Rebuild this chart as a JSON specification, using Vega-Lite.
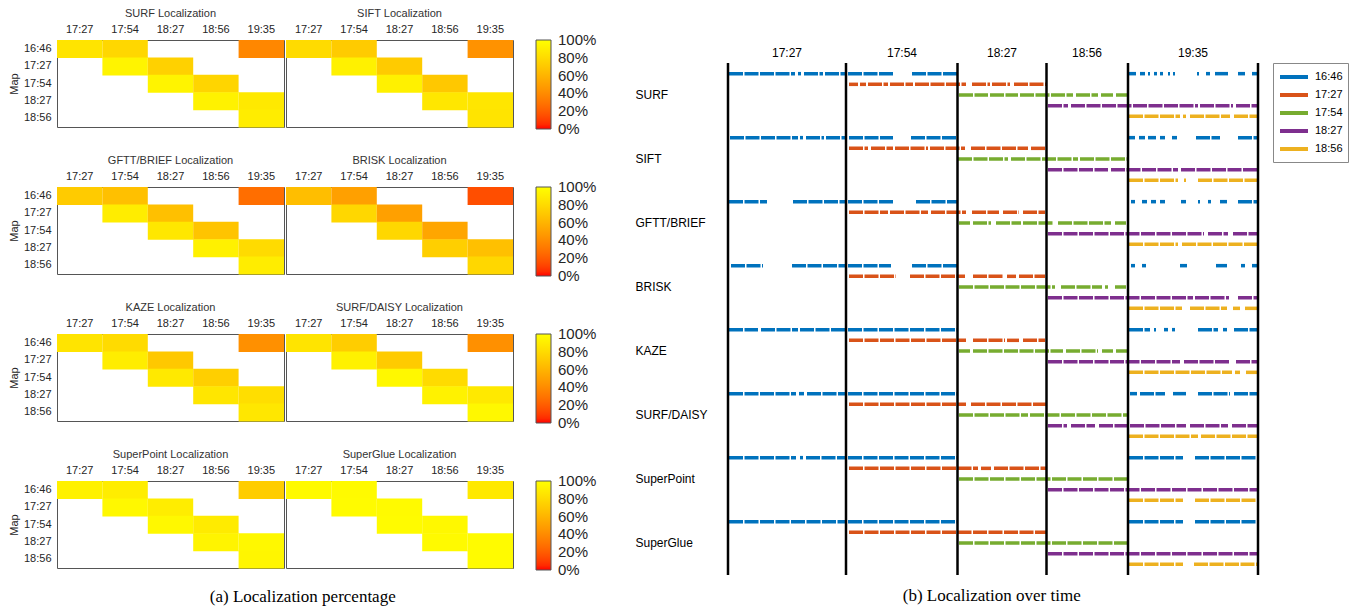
{
  "$schema": "https://vega.github.io/schema/vega-lite/v6.json",
  "background": "white",
  "padding": {"left": 8, "top": 8, "right": 4, "bottom": 4},
  "config": {
    "font": "Liberation Sans",
    "view": {"stroke": "#555555"},
    "axis": {"labelColor": "#262626", "titleColor": "#262626", "labelFontSize": 11, "titleFontSize": 11, "titleFontWeight": "normal"},
    "header": {"labelFontSize": 11, "labelColor": "#333333", "labelPadding": 4},
    "legend": {"labelColor": "#262626"}
  },
  "datasets": {
    "heat": [
      {"method": "SURF", "map": "16:46", "query": "17:27", "value": 0.85},
      {"method": "SURF", "map": "16:46", "query": "17:54", "value": 0.78},
      {"method": "SURF", "map": "16:46", "query": "19:35", "value": 0.38},
      {"method": "SURF", "map": "17:27", "query": "17:54", "value": 0.94},
      {"method": "SURF", "map": "17:27", "query": "18:27", "value": 0.75},
      {"method": "SURF", "map": "17:54", "query": "18:27", "value": 0.94},
      {"method": "SURF", "map": "17:54", "query": "18:56", "value": 0.77},
      {"method": "SURF", "map": "18:27", "query": "18:56", "value": 0.93},
      {"method": "SURF", "map": "18:27", "query": "19:35", "value": 0.88},
      {"method": "SURF", "map": "18:56", "query": "19:35", "value": 0.9},
      {"method": "SIFT", "map": "16:46", "query": "17:27", "value": 0.8},
      {"method": "SIFT", "map": "16:46", "query": "17:54", "value": 0.72},
      {"method": "SIFT", "map": "16:46", "query": "19:35", "value": 0.43},
      {"method": "SIFT", "map": "17:27", "query": "17:54", "value": 0.92},
      {"method": "SIFT", "map": "17:27", "query": "18:27", "value": 0.72},
      {"method": "SIFT", "map": "17:54", "query": "18:27", "value": 0.92},
      {"method": "SIFT", "map": "17:54", "query": "18:56", "value": 0.7},
      {"method": "SIFT", "map": "18:27", "query": "18:56", "value": 0.87},
      {"method": "SIFT", "map": "18:27", "query": "19:35", "value": 0.86},
      {"method": "SIFT", "map": "18:56", "query": "19:35", "value": 0.85},
      {"method": "GFTT/BRIEF", "map": "16:46", "query": "17:27", "value": 0.72},
      {"method": "GFTT/BRIEF", "map": "16:46", "query": "17:54", "value": 0.66},
      {"method": "GFTT/BRIEF", "map": "16:46", "query": "19:35", "value": 0.27},
      {"method": "GFTT/BRIEF", "map": "17:27", "query": "17:54", "value": 0.9},
      {"method": "GFTT/BRIEF", "map": "17:27", "query": "18:27", "value": 0.66},
      {"method": "GFTT/BRIEF", "map": "17:54", "query": "18:27", "value": 0.87},
      {"method": "GFTT/BRIEF", "map": "17:54", "query": "18:56", "value": 0.68},
      {"method": "GFTT/BRIEF", "map": "18:27", "query": "18:56", "value": 0.92},
      {"method": "GFTT/BRIEF", "map": "18:27", "query": "19:35", "value": 0.8},
      {"method": "GFTT/BRIEF", "map": "18:56", "query": "19:35", "value": 0.9},
      {"method": "BRISK", "map": "16:46", "query": "17:27", "value": 0.65},
      {"method": "BRISK", "map": "16:46", "query": "17:54", "value": 0.5},
      {"method": "BRISK", "map": "16:46", "query": "19:35", "value": 0.15},
      {"method": "BRISK", "map": "17:27", "query": "17:54", "value": 0.78},
      {"method": "BRISK", "map": "17:27", "query": "18:27", "value": 0.5},
      {"method": "BRISK", "map": "17:54", "query": "18:27", "value": 0.78},
      {"method": "BRISK", "map": "17:54", "query": "18:56", "value": 0.53},
      {"method": "BRISK", "map": "18:27", "query": "18:56", "value": 0.74},
      {"method": "BRISK", "map": "18:27", "query": "19:35", "value": 0.66},
      {"method": "BRISK", "map": "18:56", "query": "19:35", "value": 0.78},
      {"method": "KAZE", "map": "16:46", "query": "17:27", "value": 0.85},
      {"method": "KAZE", "map": "16:46", "query": "17:54", "value": 0.8},
      {"method": "KAZE", "map": "16:46", "query": "19:35", "value": 0.42},
      {"method": "KAZE", "map": "17:27", "query": "17:54", "value": 0.9},
      {"method": "KAZE", "map": "17:27", "query": "18:27", "value": 0.7},
      {"method": "KAZE", "map": "17:54", "query": "18:27", "value": 0.88},
      {"method": "KAZE", "map": "17:54", "query": "18:56", "value": 0.74},
      {"method": "KAZE", "map": "18:27", "query": "18:56", "value": 0.86},
      {"method": "KAZE", "map": "18:27", "query": "19:35", "value": 0.82},
      {"method": "KAZE", "map": "18:56", "query": "19:35", "value": 0.87},
      {"method": "SURF/DAISY", "map": "16:46", "query": "17:27", "value": 0.85},
      {"method": "SURF/DAISY", "map": "16:46", "query": "17:54", "value": 0.73},
      {"method": "SURF/DAISY", "map": "16:46", "query": "19:35", "value": 0.42},
      {"method": "SURF/DAISY", "map": "17:27", "query": "17:54", "value": 0.92},
      {"method": "SURF/DAISY", "map": "17:27", "query": "18:27", "value": 0.72},
      {"method": "SURF/DAISY", "map": "17:54", "query": "18:27", "value": 0.96},
      {"method": "SURF/DAISY", "map": "17:54", "query": "18:56", "value": 0.8},
      {"method": "SURF/DAISY", "map": "18:27", "query": "18:56", "value": 0.93},
      {"method": "SURF/DAISY", "map": "18:27", "query": "19:35", "value": 0.88},
      {"method": "SURF/DAISY", "map": "18:56", "query": "19:35", "value": 0.96},
      {"method": "SuperPoint", "map": "16:46", "query": "17:27", "value": 0.92},
      {"method": "SuperPoint", "map": "16:46", "query": "17:54", "value": 0.9},
      {"method": "SuperPoint", "map": "16:46", "query": "19:35", "value": 0.73},
      {"method": "SuperPoint", "map": "17:27", "query": "17:54", "value": 0.96},
      {"method": "SuperPoint", "map": "17:27", "query": "18:27", "value": 0.9},
      {"method": "SuperPoint", "map": "17:54", "query": "18:27", "value": 0.96},
      {"method": "SuperPoint", "map": "17:54", "query": "18:56", "value": 0.89},
      {"method": "SuperPoint", "map": "18:27", "query": "18:56", "value": 0.94},
      {"method": "SuperPoint", "map": "18:27", "query": "19:35", "value": 0.96},
      {"method": "SuperPoint", "map": "18:56", "query": "19:35", "value": 0.95},
      {"method": "SuperGlue", "map": "16:46", "query": "17:27", "value": 0.97},
      {"method": "SuperGlue", "map": "16:46", "query": "17:54", "value": 0.97},
      {"method": "SuperGlue", "map": "16:46", "query": "19:35", "value": 0.88},
      {"method": "SuperGlue", "map": "17:27", "query": "17:54", "value": 0.98},
      {"method": "SuperGlue", "map": "17:27", "query": "18:27", "value": 0.97},
      {"method": "SuperGlue", "map": "17:54", "query": "18:27", "value": 0.98},
      {"method": "SuperGlue", "map": "17:54", "query": "18:56", "value": 0.96},
      {"method": "SuperGlue", "map": "18:27", "query": "18:56", "value": 0.97},
      {"method": "SuperGlue", "map": "18:27", "query": "19:35", "value": 0.98},
      {"method": "SuperGlue", "map": "18:56", "query": "19:35", "value": 0.98}
    ],
    "sessions": [
      {"boundary": 0}, {"boundary": 118}, {"boundary": 229.5}, {"boundary": 318.5}, {"boundary": 400}, {"boundary": 530}
    ],
    "sessionLabels": [
      {"session": "17:27", "center": 59}, {"session": "17:54", "center": 174}, {"session": "18:27", "center": 274},
      {"session": "18:56", "center": 359}, {"session": "19:35", "center": 465}
    ],
    "segments": [
      {"method": "SURF", "map": "16:46", "start": 1, "end": 67}, {"method": "SURF", "map": "16:46", "start": 70, "end": 73},
      {"method": "SURF", "map": "16:46", "start": 76, "end": 95}, {"method": "SURF", "map": "16:46", "start": 97, "end": 118},
      {"method": "SURF", "map": "16:46", "start": 120, "end": 165}, {"method": "SURF", "map": "16:46", "start": 184, "end": 229},
      {"method": "SURF", "map": "16:46", "start": 401, "end": 408}, {"method": "SURF", "map": "16:46", "start": 412, "end": 417},
      {"method": "SURF", "map": "16:46", "start": 420, "end": 422}, {"method": "SURF", "map": "16:46", "start": 426, "end": 429},
      {"method": "SURF", "map": "16:46", "start": 432, "end": 435}, {"method": "SURF", "map": "16:46", "start": 440, "end": 442},
      {"method": "SURF", "map": "16:46", "start": 445, "end": 447}, {"method": "SURF", "map": "16:46", "start": 469, "end": 471},
      {"method": "SURF", "map": "16:46", "start": 478, "end": 482}, {"method": "SURF", "map": "16:46", "start": 487, "end": 500},
      {"method": "SURF", "map": "16:46", "start": 510, "end": 517}, {"method": "SURF", "map": "16:46", "start": 524, "end": 529},
      {"method": "SURF", "map": "17:27", "start": 121, "end": 130}, {"method": "SURF", "map": "17:27", "start": 132, "end": 138},
      {"method": "SURF", "map": "17:27", "start": 140, "end": 160}, {"method": "SURF", "map": "17:27", "start": 162, "end": 185},
      {"method": "SURF", "map": "17:27", "start": 187, "end": 238}, {"method": "SURF", "map": "17:27", "start": 244, "end": 262},
      {"method": "SURF", "map": "17:27", "start": 264, "end": 282}, {"method": "SURF", "map": "17:27", "start": 286, "end": 318},
      {"method": "SURF", "map": "17:54", "start": 231, "end": 260}, {"method": "SURF", "map": "17:54", "start": 262, "end": 290},
      {"method": "SURF", "map": "17:54", "start": 292, "end": 345}, {"method": "SURF", "map": "17:54", "start": 348, "end": 370},
      {"method": "SURF", "map": "17:54", "start": 373, "end": 385}, {"method": "SURF", "map": "17:54", "start": 388, "end": 399},
      {"method": "SURF", "map": "18:27", "start": 320, "end": 340}, {"method": "SURF", "map": "18:27", "start": 343, "end": 470},
      {"method": "SURF", "map": "18:27", "start": 472, "end": 505}, {"method": "SURF", "map": "18:27", "start": 508, "end": 530},
      {"method": "SURF", "map": "18:56", "start": 401, "end": 452}, {"method": "SURF", "map": "18:56", "start": 455, "end": 458},
      {"method": "SURF", "map": "18:56", "start": 462, "end": 502}, {"method": "SURF", "map": "18:56", "start": 506, "end": 530},

      {"method": "SIFT", "map": "16:46", "start": 2, "end": 70}, {"method": "SIFT", "map": "16:46", "start": 72, "end": 75},
      {"method": "SIFT", "map": "16:46", "start": 78, "end": 96}, {"method": "SIFT", "map": "16:46", "start": 98, "end": 118},
      {"method": "SIFT", "map": "16:46", "start": 121, "end": 165}, {"method": "SIFT", "map": "16:46", "start": 183, "end": 229},
      {"method": "SIFT", "map": "16:46", "start": 401, "end": 407}, {"method": "SIFT", "map": "16:46", "start": 411, "end": 417},
      {"method": "SIFT", "map": "16:46", "start": 420, "end": 428}, {"method": "SIFT", "map": "16:46", "start": 432, "end": 437},
      {"method": "SIFT", "map": "16:46", "start": 444, "end": 449}, {"method": "SIFT", "map": "16:46", "start": 468, "end": 492},
      {"method": "SIFT", "map": "16:46", "start": 510, "end": 530},
      {"method": "SIFT", "map": "17:27", "start": 121, "end": 140}, {"method": "SIFT", "map": "17:27", "start": 143, "end": 165},
      {"method": "SIFT", "map": "17:27", "start": 167, "end": 200}, {"method": "SIFT", "map": "17:27", "start": 202, "end": 237},
      {"method": "SIFT", "map": "17:27", "start": 243, "end": 300}, {"method": "SIFT", "map": "17:27", "start": 303, "end": 318},
      {"method": "SIFT", "map": "17:54", "start": 230, "end": 280}, {"method": "SIFT", "map": "17:54", "start": 283, "end": 350},
      {"method": "SIFT", "map": "17:54", "start": 352, "end": 399},
      {"method": "SIFT", "map": "18:27", "start": 320, "end": 380}, {"method": "SIFT", "map": "18:27", "start": 383, "end": 450},
      {"method": "SIFT", "map": "18:27", "start": 453, "end": 530},
      {"method": "SIFT", "map": "18:56", "start": 401, "end": 450}, {"method": "SIFT", "map": "18:56", "start": 456, "end": 458},
      {"method": "SIFT", "map": "18:56", "start": 470, "end": 530},

      {"method": "GFTT/BRIEF", "map": "16:46", "start": 1, "end": 39}, {"method": "GFTT/BRIEF", "map": "16:46", "start": 65, "end": 117},
      {"method": "GFTT/BRIEF", "map": "16:46", "start": 120, "end": 165}, {"method": "GFTT/BRIEF", "map": "16:46", "start": 188, "end": 229},
      {"method": "GFTT/BRIEF", "map": "16:46", "start": 403, "end": 407}, {"method": "GFTT/BRIEF", "map": "16:46", "start": 414, "end": 419},
      {"method": "GFTT/BRIEF", "map": "16:46", "start": 423, "end": 428}, {"method": "GFTT/BRIEF", "map": "16:46", "start": 432, "end": 437},
      {"method": "GFTT/BRIEF", "map": "16:46", "start": 453, "end": 458}, {"method": "GFTT/BRIEF", "map": "16:46", "start": 470, "end": 472},
      {"method": "GFTT/BRIEF", "map": "16:46", "start": 480, "end": 483}, {"method": "GFTT/BRIEF", "map": "16:46", "start": 492, "end": 499},
      {"method": "GFTT/BRIEF", "map": "16:46", "start": 510, "end": 530},
      {"method": "GFTT/BRIEF", "map": "17:27", "start": 121, "end": 160}, {"method": "GFTT/BRIEF", "map": "17:27", "start": 162, "end": 200},
      {"method": "GFTT/BRIEF", "map": "17:27", "start": 203, "end": 238}, {"method": "GFTT/BRIEF", "map": "17:27", "start": 244, "end": 271},
      {"method": "GFTT/BRIEF", "map": "17:27", "start": 275, "end": 291}, {"method": "GFTT/BRIEF", "map": "17:27", "start": 295, "end": 317},
      {"method": "GFTT/BRIEF", "map": "17:54", "start": 231, "end": 242}, {"method": "GFTT/BRIEF", "map": "17:54", "start": 245, "end": 263},
      {"method": "GFTT/BRIEF", "map": "17:54", "start": 268, "end": 293}, {"method": "GFTT/BRIEF", "map": "17:54", "start": 295, "end": 326},
      {"method": "GFTT/BRIEF", "map": "17:54", "start": 330, "end": 383}, {"method": "GFTT/BRIEF", "map": "17:54", "start": 387, "end": 398},
      {"method": "GFTT/BRIEF", "map": "18:27", "start": 320, "end": 476}, {"method": "GFTT/BRIEF", "map": "18:27", "start": 480, "end": 500},
      {"method": "GFTT/BRIEF", "map": "18:27", "start": 505, "end": 530},
      {"method": "GFTT/BRIEF", "map": "18:56", "start": 401, "end": 450}, {"method": "GFTT/BRIEF", "map": "18:56", "start": 454, "end": 530},

      {"method": "BRISK", "map": "16:46", "start": 3, "end": 35}, {"method": "BRISK", "map": "16:46", "start": 64, "end": 117},
      {"method": "BRISK", "map": "16:46", "start": 120, "end": 163}, {"method": "BRISK", "map": "16:46", "start": 184, "end": 229},
      {"method": "BRISK", "map": "16:46", "start": 403, "end": 407}, {"method": "BRISK", "map": "16:46", "start": 414, "end": 418},
      {"method": "BRISK", "map": "16:46", "start": 452, "end": 459}, {"method": "BRISK", "map": "16:46", "start": 488, "end": 499},
      {"method": "BRISK", "map": "16:46", "start": 513, "end": 517}, {"method": "BRISK", "map": "16:46", "start": 524, "end": 529},
      {"method": "BRISK", "map": "17:27", "start": 121, "end": 168}, {"method": "BRISK", "map": "17:27", "start": 182, "end": 237},
      {"method": "BRISK", "map": "17:27", "start": 245, "end": 276}, {"method": "BRISK", "map": "17:27", "start": 279, "end": 288},
      {"method": "BRISK", "map": "17:27", "start": 291, "end": 317},
      {"method": "BRISK", "map": "17:54", "start": 231, "end": 327}, {"method": "BRISK", "map": "17:54", "start": 333, "end": 374},
      {"method": "BRISK", "map": "17:54", "start": 377, "end": 380}, {"method": "BRISK", "map": "17:54", "start": 387, "end": 398},
      {"method": "BRISK", "map": "18:27", "start": 320, "end": 465}, {"method": "BRISK", "map": "18:27", "start": 467, "end": 501},
      {"method": "BRISK", "map": "18:27", "start": 510, "end": 530},
      {"method": "BRISK", "map": "18:56", "start": 401, "end": 454}, {"method": "BRISK", "map": "18:56", "start": 462, "end": 499},
      {"method": "BRISK", "map": "18:56", "start": 505, "end": 512}, {"method": "BRISK", "map": "18:56", "start": 517, "end": 530},

      {"method": "KAZE", "map": "16:46", "start": 1, "end": 30}, {"method": "KAZE", "map": "16:46", "start": 33, "end": 70},
      {"method": "KAZE", "map": "16:46", "start": 72, "end": 118}, {"method": "KAZE", "map": "16:46", "start": 120, "end": 229},
      {"method": "KAZE", "map": "16:46", "start": 401, "end": 422}, {"method": "KAZE", "map": "16:46", "start": 426, "end": 428},
      {"method": "KAZE", "map": "16:46", "start": 436, "end": 440}, {"method": "KAZE", "map": "16:46", "start": 444, "end": 447},
      {"method": "KAZE", "map": "16:46", "start": 470, "end": 490}, {"method": "KAZE", "map": "16:46", "start": 495, "end": 499},
      {"method": "KAZE", "map": "16:46", "start": 506, "end": 530},
      {"method": "KAZE", "map": "17:27", "start": 121, "end": 238}, {"method": "KAZE", "map": "17:27", "start": 245, "end": 277},
      {"method": "KAZE", "map": "17:27", "start": 279, "end": 291}, {"method": "KAZE", "map": "17:27", "start": 295, "end": 317},
      {"method": "KAZE", "map": "17:54", "start": 231, "end": 242}, {"method": "KAZE", "map": "17:54", "start": 245, "end": 335},
      {"method": "KAZE", "map": "17:54", "start": 338, "end": 370}, {"method": "KAZE", "map": "17:54", "start": 374, "end": 385},
      {"method": "KAZE", "map": "17:54", "start": 388, "end": 399},
      {"method": "KAZE", "map": "18:27", "start": 320, "end": 452}, {"method": "KAZE", "map": "18:27", "start": 456, "end": 501},
      {"method": "KAZE", "map": "18:27", "start": 508, "end": 530},
      {"method": "KAZE", "map": "18:56", "start": 401, "end": 504}, {"method": "KAZE", "map": "18:56", "start": 507, "end": 512},
      {"method": "KAZE", "map": "18:56", "start": 518, "end": 530},

      {"method": "SURF/DAISY", "map": "16:46", "start": 1, "end": 68}, {"method": "SURF/DAISY", "map": "16:46", "start": 71, "end": 76},
      {"method": "SURF/DAISY", "map": "16:46", "start": 79, "end": 118}, {"method": "SURF/DAISY", "map": "16:46", "start": 120, "end": 229},
      {"method": "SURF/DAISY", "map": "16:46", "start": 402, "end": 409}, {"method": "SURF/DAISY", "map": "16:46", "start": 412, "end": 437},
      {"method": "SURF/DAISY", "map": "16:46", "start": 445, "end": 458}, {"method": "SURF/DAISY", "map": "16:46", "start": 470, "end": 502},
      {"method": "SURF/DAISY", "map": "16:46", "start": 506, "end": 530},
      {"method": "SURF/DAISY", "map": "17:27", "start": 121, "end": 238}, {"method": "SURF/DAISY", "map": "17:27", "start": 243, "end": 318},
      {"method": "SURF/DAISY", "map": "17:54", "start": 231, "end": 300}, {"method": "SURF/DAISY", "map": "17:54", "start": 302, "end": 399},
      {"method": "SURF/DAISY", "map": "18:27", "start": 320, "end": 339}, {"method": "SURF/DAISY", "map": "18:27", "start": 343, "end": 367},
      {"method": "SURF/DAISY", "map": "18:27", "start": 371, "end": 458}, {"method": "SURF/DAISY", "map": "18:27", "start": 462, "end": 500},
      {"method": "SURF/DAISY", "map": "18:27", "start": 504, "end": 530},
      {"method": "SURF/DAISY", "map": "18:56", "start": 401, "end": 470}, {"method": "SURF/DAISY", "map": "18:56", "start": 473, "end": 530},

      {"method": "SuperPoint", "map": "16:46", "start": 1, "end": 68}, {"method": "SuperPoint", "map": "16:46", "start": 72, "end": 75},
      {"method": "SuperPoint", "map": "16:46", "start": 78, "end": 118}, {"method": "SuperPoint", "map": "16:46", "start": 120, "end": 229},
      {"method": "SuperPoint", "map": "16:46", "start": 401, "end": 455}, {"method": "SuperPoint", "map": "16:46", "start": 467, "end": 530},
      {"method": "SuperPoint", "map": "17:27", "start": 121, "end": 250}, {"method": "SuperPoint", "map": "17:27", "start": 253, "end": 263},
      {"method": "SuperPoint", "map": "17:27", "start": 266, "end": 318},
      {"method": "SuperPoint", "map": "17:54", "start": 231, "end": 399},
      {"method": "SuperPoint", "map": "18:27", "start": 320, "end": 530},
      {"method": "SuperPoint", "map": "18:56", "start": 401, "end": 455}, {"method": "SuperPoint", "map": "18:56", "start": 467, "end": 530},

      {"method": "SuperGlue", "map": "16:46", "start": 1, "end": 118}, {"method": "SuperGlue", "map": "16:46", "start": 120, "end": 229},
      {"method": "SuperGlue", "map": "16:46", "start": 401, "end": 455}, {"method": "SuperGlue", "map": "16:46", "start": 467, "end": 530},
      {"method": "SuperGlue", "map": "17:27", "start": 121, "end": 318},
      {"method": "SuperGlue", "map": "17:54", "start": 231, "end": 399},
      {"method": "SuperGlue", "map": "18:27", "start": 320, "end": 530},
      {"method": "SuperGlue", "map": "18:56", "start": 401, "end": 455}, {"method": "SuperGlue", "map": "18:56", "start": 466, "end": 530}
    ]
  },
  "columns": 2,
  "align": "none",
  "spacing": 38,
  "concat": [
    {
      "title": {"text": "(a) Localization percentage", "orient": "bottom", "anchor": "middle", "font": "Liberation Serif", "fontSize": 17, "fontWeight": "normal", "color": "black", "offset": 11},
      "spacing": 18,
      "resolve": {"scale": {"color": "independent"}},
      "vconcat": [
        {
          "data": {"name": "heat"},
          "transform": [{"filter": {"field": "method", "oneOf": ["SURF", "SIFT"]}}],
          "facet": {"column": {"field": "method", "type": "nominal", "sort": ["SURF", "SIFT"], "title": null, "header": {"labelExpr": "datum.value + ' Localization'"}}},
          "spacing": 0,
          "spec": {
            "width": 227, "height": 87, "mark": "rect",
            "encoding": {
              "x": {"field": "query", "type": "ordinal", "scale": {"domain": ["17:27", "17:54", "18:27", "18:56", "19:35"]}, "axis": {"orient": "top", "title": null, "labelAngle": 0, "ticks": false, "domain": false, "labelPadding": 5}},
              "y": {"field": "map", "type": "ordinal", "scale": {"domain": ["16:46", "17:27", "17:54", "18:27", "18:56"]}, "axis": {"title": "Map", "ticks": false, "domain": false, "labelPadding": 5}},
              "color": {"field": "value", "type": "quantitative", "scale": {"domain": [0, 1], "range": ["#ff0000", "#ffff00"]},
                "legend": {"title": null, "gradientLength": 89, "gradientThickness": 15, "labelFontSize": 15, "labelOffset": 7, "values": [0, 0.2, 0.4, 0.6, 0.8, 1], "format": ".0%", "labelOverlap": false, "gradientStrokeColor": "#555555", "gradientStrokeWidth": 1, "offset": 22,
                  "encode": {"labels": {"update": {"baseline": {"value": "middle"}}}}}}
            }
          }
        },
        {
          "data": {"name": "heat"},
          "transform": [{"filter": {"field": "method", "oneOf": ["GFTT/BRIEF", "BRISK"]}}],
          "facet": {"column": {"field": "method", "type": "nominal", "sort": ["GFTT/BRIEF", "BRISK"], "title": null, "header": {"labelExpr": "datum.value + ' Localization'"}}},
          "spacing": 0,
          "spec": {
            "width": 227, "height": 87, "mark": "rect",
            "encoding": {
              "x": {"field": "query", "type": "ordinal", "scale": {"domain": ["17:27", "17:54", "18:27", "18:56", "19:35"]}, "axis": {"orient": "top", "title": null, "labelAngle": 0, "ticks": false, "domain": false, "labelPadding": 5}},
              "y": {"field": "map", "type": "ordinal", "scale": {"domain": ["16:46", "17:27", "17:54", "18:27", "18:56"]}, "axis": {"title": "Map", "ticks": false, "domain": false, "labelPadding": 5}},
              "color": {"field": "value", "type": "quantitative", "scale": {"domain": [0, 1], "range": ["#ff0000", "#ffff00"]},
                "legend": {"title": null, "gradientLength": 89, "gradientThickness": 15, "labelFontSize": 15, "labelOffset": 7, "values": [0, 0.2, 0.4, 0.6, 0.8, 1], "format": ".0%", "labelOverlap": false, "gradientStrokeColor": "#555555", "gradientStrokeWidth": 1, "offset": 22,
                  "encode": {"labels": {"update": {"baseline": {"value": "middle"}}}}}}
            }
          }
        },
        {
          "data": {"name": "heat"},
          "transform": [{"filter": {"field": "method", "oneOf": ["KAZE", "SURF/DAISY"]}}],
          "facet": {"column": {"field": "method", "type": "nominal", "sort": ["KAZE", "SURF/DAISY"], "title": null, "header": {"labelExpr": "datum.value + ' Localization'"}}},
          "spacing": 0,
          "spec": {
            "width": 227, "height": 87, "mark": "rect",
            "encoding": {
              "x": {"field": "query", "type": "ordinal", "scale": {"domain": ["17:27", "17:54", "18:27", "18:56", "19:35"]}, "axis": {"orient": "top", "title": null, "labelAngle": 0, "ticks": false, "domain": false, "labelPadding": 5}},
              "y": {"field": "map", "type": "ordinal", "scale": {"domain": ["16:46", "17:27", "17:54", "18:27", "18:56"]}, "axis": {"title": "Map", "ticks": false, "domain": false, "labelPadding": 5}},
              "color": {"field": "value", "type": "quantitative", "scale": {"domain": [0, 1], "range": ["#ff0000", "#ffff00"]},
                "legend": {"title": null, "gradientLength": 89, "gradientThickness": 15, "labelFontSize": 15, "labelOffset": 7, "values": [0, 0.2, 0.4, 0.6, 0.8, 1], "format": ".0%", "labelOverlap": false, "gradientStrokeColor": "#555555", "gradientStrokeWidth": 1, "offset": 22,
                  "encode": {"labels": {"update": {"baseline": {"value": "middle"}}}}}}
            }
          }
        },
        {
          "data": {"name": "heat"},
          "transform": [{"filter": {"field": "method", "oneOf": ["SuperPoint", "SuperGlue"]}}],
          "facet": {"column": {"field": "method", "type": "nominal", "sort": ["SuperPoint", "SuperGlue"], "title": null, "header": {"labelExpr": "datum.value + ' Localization'"}}},
          "spacing": 0,
          "spec": {
            "width": 227, "height": 87, "mark": "rect",
            "encoding": {
              "x": {"field": "query", "type": "ordinal", "scale": {"domain": ["17:27", "17:54", "18:27", "18:56", "19:35"]}, "axis": {"orient": "top", "title": null, "labelAngle": 0, "ticks": false, "domain": false, "labelPadding": 5}},
              "y": {"field": "map", "type": "ordinal", "scale": {"domain": ["16:46", "17:27", "17:54", "18:27", "18:56"]}, "axis": {"title": "Map", "ticks": false, "domain": false, "labelPadding": 5}},
              "color": {"field": "value", "type": "quantitative", "scale": {"domain": [0, 1], "range": ["#ff0000", "#ffff00"]},
                "legend": {"title": null, "gradientLength": 89, "gradientThickness": 15, "labelFontSize": 15, "labelOffset": 7, "values": [0, 0.2, 0.4, 0.6, 0.8, 1], "format": ".0%", "labelOverlap": false, "gradientStrokeColor": "#555555", "gradientStrokeWidth": 1, "offset": 22,
                  "encode": {"labels": {"update": {"baseline": {"value": "middle"}}}}}}
            }
          }
        }
      ]
    },
    {
      "title": {"text": "(b) Localization over time", "orient": "bottom", "anchor": "middle", "font": "Liberation Serif", "fontSize": 17, "fontWeight": "normal", "color": "black", "offset": 12},
      "spacing": 0,
      "resolve": {"scale": {"color": "independent"}, "legend": {"color": "independent"}},
      "vconcat": [
        {
          "width": 530,
          "height": 21,
          "view": {"stroke": null},
          "data": {"name": "sessionLabels"},
          "mark": {"type": "text", "fontSize": 12, "color": "black", "baseline": "middle", "dy": 2},
          "encoding": {
            "x": {"field": "center", "type": "quantitative", "scale": {"domain": [0, 530], "nice": false, "zero": false}, "axis": null},
            "text": {"field": "session"}
          }
        },
        {
          "width": 530,
          "height": 512,
          "view": {"stroke": null},
          "layer": [
            {
              "data": {"name": "segments"},
              "mark": {"type": "rule", "strokeWidth": 3.5, "strokeDash": [14, 1.5]},
              "encoding": {
                "x": {"field": "start", "type": "quantitative", "scale": {"domain": [0, 530], "nice": false, "zero": false}, "axis": null},
                "x2": {"field": "end"},
                "y": {"field": "method", "type": "nominal", "sort": ["SURF", "SIFT", "GFTT/BRIEF", "BRISK", "KAZE", "SURF/DAISY", "SuperPoint", "SuperGlue"], "scale": {"paddingInner": 0, "paddingOuter": 0},
                  "axis": {"title": null, "ticks": false, "domain": false, "labelAlign": "left", "labelPadding": 93, "labelFontSize": 12, "labelColor": "black"}},
                "yOffset": {"field": "map", "type": "nominal", "scale": {"type": "point", "padding": 1, "domain": ["16:46", "17:27", "17:54", "18:27", "18:56"]}},
                "color": {"field": "map", "type": "nominal", "scale": {"domain": ["16:46", "17:27", "17:54", "18:27", "18:56"], "range": ["#0072BD", "#D95319", "#77AC30", "#7E2F8E", "#EDB120"]},
                  "legend": {"title": null, "orient": "right", "offset": 15, "symbolType": "M-1,0H3", "symbolSize": 196, "symbolStrokeWidth": 4, "symbolDash": [], "symbolFillColor": "transparent", "labelFontSize": 11, "labelColor": "black", "labelOffset": 19, "strokeColor": "#888888", "padding": 5, "rowPadding": 1}}
              }
            },
            {
              "data": {"name": "sessions"},
              "mark": {"type": "rule", "color": "black", "strokeWidth": 2.5},
              "encoding": {"x": {"field": "boundary", "type": "quantitative", "axis": null}}
            }
          ]
        }
      ]
    }
  ]
}
